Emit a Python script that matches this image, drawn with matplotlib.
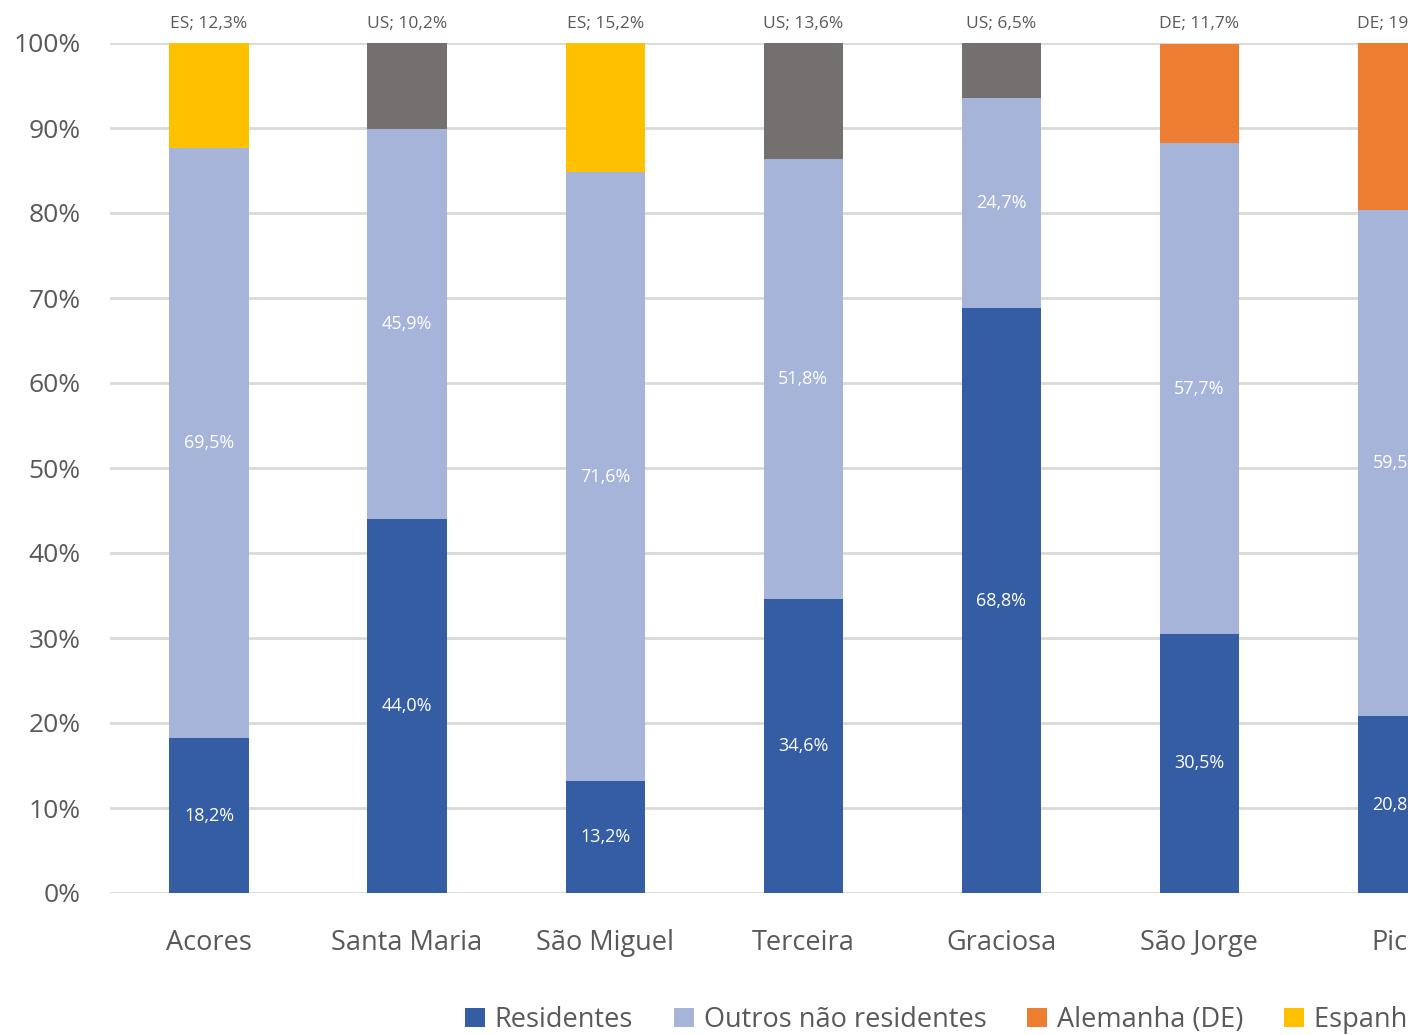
import matplotlib
matplotlib.use("Agg")
import matplotlib.pyplot as plt
from matplotlib.patches import Patch
import numpy as np

plt.rcParams['font.family'] = ['Open Sans', 'DejaVu Sans']

# data (percent)
islands = ['Acores', 'Santa Maria', 'São Miguel', 'Terceira', 'Graciosa', 'São Jorge', 'Pico']
residentes = [18.2, 44.0, 13.2, 34.6, 68.8, 30.5, 20.8]
outros = [69.5, 45.9, 71.6, 51.8, 24.7, 57.7, 59.5]
top_country = ['ES', 'US', 'ES', 'US', 'US', 'DE', 'DE']
top_share = [12.3, 10.2, 15.2, 13.6, 6.5, 11.7, 19.7]

colors = {
    'Residentes': '#355DA3',
    'Outros': '#A6B4DA',
    'DE': '#ED7D31',
    'ES': '#FFC000',
    'US': '#747070',
}
legend_names = ['Residentes', 'Outros não residentes', 'Alemanha (DE)', 'Espanha (ES)', 'Estados Unidos (US)']
legend_keys = ['Residentes', 'Outros', 'DE', 'ES', 'US']

txt = '#595959'

fig = plt.figure(figsize=(14.08, 10.35), dpi=100)
ax = fig.add_axes([110 / 1408, 1 - 893 / 1035, 1 - 110 / 1408, 850 / 1035])

x = np.arange(len(islands))
w = 0.40
res = np.array(residentes)
out = np.array(outros)
top = np.array(top_share)

ax.bar(x, res, w, color=colors['Residentes'], zorder=3)
ax.bar(x, out, w, bottom=res, color=colors['Outros'], zorder=3)
ax.bar(x, top, w, bottom=res + out, color=[colors[c] for c in top_country], zorder=3)

def fmt(v):
    return f'{v:.1f}%'.replace('.', ',')

for i in range(len(islands)):
    ax.text(x[i], res[i] / 2, fmt(res[i]), ha='center', va='center', color='white', fontsize=13, zorder=4)
    ax.text(x[i], res[i] + out[i] / 2, fmt(out[i]), ha='center', va='center', color='white', fontsize=13, zorder=4)
    ax.annotate(f'{top_country[i]}; {fmt(top[i])}', (x[i], 100), xytext=(0, 8), textcoords='offset points',
                ha='center', va='bottom', color=txt, fontsize=12.5, annotation_clip=False)

ax.set_ylim(0, 100)
ax.set_xlim(-0.5, (1408 - 209.5) / 198)
ax.set_yticks(np.arange(0, 101, 10))
ax.set_yticklabels([f'{v}%' for v in range(0, 101, 10)])
ax.set_xticks(x)
ax.set_xticklabels(islands)
ax.tick_params(axis='both', length=0, labelsize=19, colors=txt)
ax.tick_params(axis='x', pad=26, labelsize=19.5)
ax.tick_params(axis='y', pad=21)
ax.grid(axis='y', color='#D9D9D9', linewidth=2, zorder=0)
for s in ax.spines.values():
    s.set_visible(False)

handles = [Patch(facecolor=colors[k]) for k in legend_keys]
fig.legend(handles, legend_names, loc='center left', bbox_to_anchor=(465 / 1408, 1 - 1020 / 1035),
           ncol=5, frameon=False, fontsize=19.5, labelcolor=txt, handlelength=0.75, handleheight=0.75,
           handletextpad=0.35, columnspacing=1.5, borderpad=0, borderaxespad=0)

fig.savefig('out.png', dpi=100)
